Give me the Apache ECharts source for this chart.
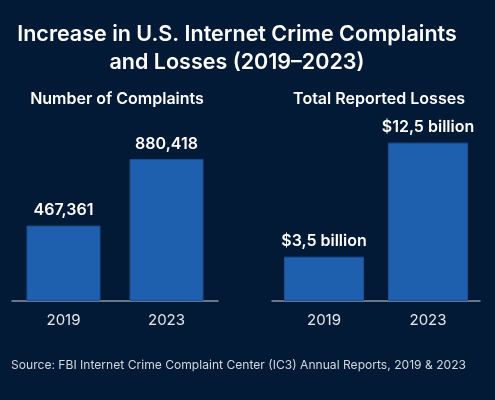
<!DOCTYPE html>
<html>
<head>
<meta charset="utf-8">
<script src="https://cdn.jsdelivr.net/npm/echarts@6/dist/echarts.min.js"></script>
<style>
  html, body { margin: 0; padding: 0; background: #031b38; }
  #chart { width: 495px; height: 400px; }
</style>
</head>
<body>
<div id="chart"></div>
<script>
// data
const years = ['2019', '2023']
const complaints = [467361, 880418]
const complaintLabels = ['467,361', '880,418']
const losses = [3.5, 12.5]
const lossLabels = ['$3,5 billion', '$12,5 billion']

const font = 'Inter, "Noto Sans", sans-serif'
const chart = echarts.init(document.getElementById('chart'))

const axisCommon = {
  type: 'category',
  axisLine: { show: true, lineStyle: { color: '#8a93a3', width: 1.5 } },
  axisTick: { show: false },
  axisLabel: { color: '#e6e8ec', fontSize: 15, fontFamily: font, margin: 12 }
}
const yCommon = {
  type: 'value',
  min: 0,
  show: false,
  splitLine: { show: false }
}
const barStyle = {
  color: '#1e5fae',
  borderColor: '#1a4f93',
  borderWidth: 1
}
const labelStyle = {
  show: true,
  position: 'top',
  distance: 7,
  color: '#ffffff',
  fontSize: 16,
  fontWeight: 600,
  fontFamily: font
}

const option = {
  backgroundColor: '#031a37',
  animation: false,
  title: [
    {
      text: 'Increase in U.S. Internet Crime Complaints\nand Losses (2019–2023)',
      left: 232, top: 16, textAlign: 'center',
      textStyle: { color: '#ffffff', fontSize: 21.5, fontWeight: 600, fontFamily: font, lineHeight: 28 }
    },
    {
      text: 'Number of Complaints',
      left: 112, top: 86, textAlign: 'center',
      textStyle: { color: '#ffffff', fontSize: 16, fontWeight: 600, fontFamily: font }
    },
    {
      text: 'Total Reported Losses',
      left: 374, top: 86, textAlign: 'center',
      textStyle: { color: '#ffffff', fontSize: 16, fontWeight: 600, fontFamily: font }
    },
    {
      text: 'Source: FBI Internet Crime Complaint Center (IC3) Annual Reports, 2019 & 2023',
      left: 6, top: 354,
      textStyle: { color: '#d3d7de', fontSize: 12.1, fontWeight: 400, fontFamily: font }
    }
  ],
  grid: [
    { left: 12, width: 206, top: 130, height: 171 },
    { left: 272, width: 208, top: 130, height: 171 }
  ],
  xAxis: [
    Object.assign({ gridIndex: 0, data: years }, axisCommon),
    Object.assign({ gridIndex: 1, data: years }, axisCommon)
  ],
  yAxis: [
    Object.assign({ gridIndex: 0, max: 1060000 }, yCommon),
    Object.assign({ gridIndex: 1, max: 13.5 }, yCommon)
  ],
  series: [
    {
      type: 'bar',
      xAxisIndex: 0, yAxisIndex: 0,
      barWidth: 74,
      itemStyle: barStyle,
      label: Object.assign({ formatter: p => complaintLabels[p.dataIndex] }, labelStyle),
      data: complaints
    },
    {
      type: 'bar',
      xAxisIndex: 1, yAxisIndex: 1,
      barWidth: 80,
      itemStyle: barStyle,
      label: Object.assign({ formatter: p => lossLabels[p.dataIndex] }, labelStyle),
      data: losses
    }
  ]
}
chart.setOption(option)
</script>
</body>
</html>
